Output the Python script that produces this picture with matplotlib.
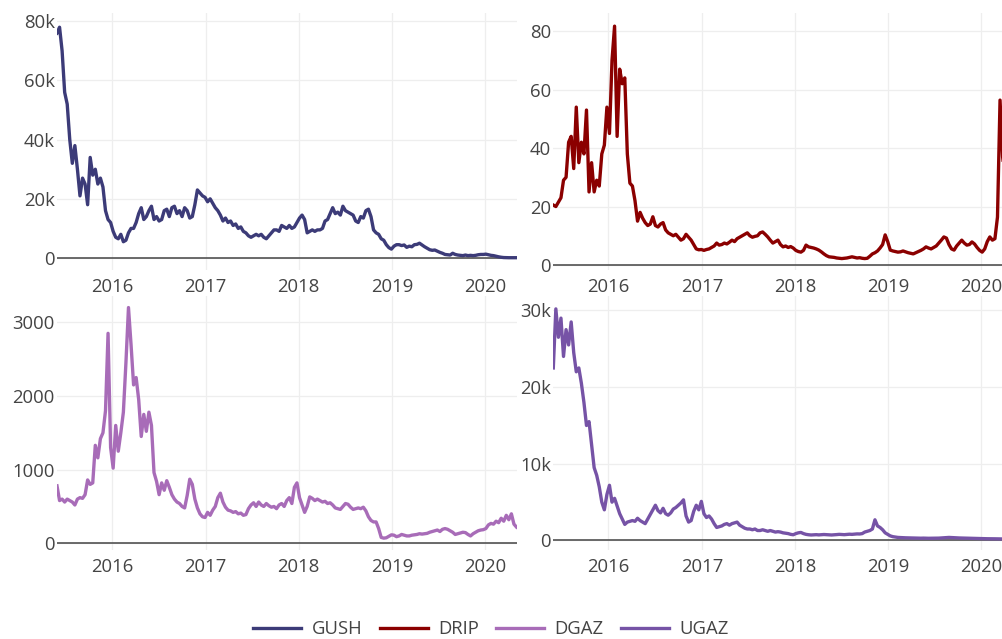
import numpy as np
import pandas as pd
import matplotlib
matplotlib.use('Agg')
import matplotlib.pyplot as plt
import matplotlib.dates as mdates
from matplotlib.ticker import FixedLocator, FuncFormatter

plt.rcParams['font.family'] = ['Open Sans', 'DejaVu Sans']

# one reading every 10 days, 2015-05-30 .. 2020-05-03
dates = pd.date_range('2015-05-30', periods=181, freq='10D')

# GUSH, thousands
gush_k = [
    76, 78, 70, 56, 52, 40, 32, 38, 30, 21,
    27, 25, 18, 34, 28, 30, 25, 27, 24, 16,
    13, 12, 9, 7, 6.5, 8, 5.5, 6, 8.5, 10,
    10, 12, 15, 17, 13, 14, 16, 17.5, 13, 14,
    12.5, 13, 16, 16.5, 14, 17, 17.5, 15, 16, 14,
    17, 16, 13.5, 14, 18, 23, 22, 21, 20.5, 19,
    20, 18.5, 17, 16, 14.5, 12.5, 13.5, 12, 12.5, 11,
    11.5, 10, 10.5, 9, 8.5, 7.5, 7, 7.5, 8, 7.5,
    8, 7, 6.5, 7.5, 8.5, 9.5, 9.5, 9, 11, 10.5,
    10, 11, 10, 10.5, 12, 13.5, 14.5, 13, 8.5, 9,
    9.5, 9, 9.5, 9.5, 10, 12.5, 13, 15, 17, 15,
    15.5, 14.5, 17.5, 16, 15.5, 15, 14.5, 12.5, 12, 14,
    13.5, 16, 16.5, 14, 9.5, 8.5, 8, 6.5, 6, 4.5,
    3.5, 3, 4, 4.5, 4.5, 4.2, 4.4, 3.6, 4, 3.8,
    4.5, 4.6, 5, 4.4, 3.8, 3.3, 2.8, 2.6, 2.7, 2.3,
    1.9, 1.6, 1.2, 1.1, 1.0, 1.6, 1.2, 1.0, 0.9, 0.8,
    1.0, 0.8, 0.9, 0.8, 0.9, 1.1, 1.2, 1.2, 1.3, 1.1,
    0.9, 0.8, 0.6, 0.4, 0.25, 0.15, 0.12, 0.1, 0.1, 0.12,
    0.1,
]

drip = [
    20.5, 20, 21.5, 23, 29, 30, 42, 44, 33, 54,
    35, 42, 38, 53, 25, 35, 25, 29, 27, 38,
    41, 54, 45, 70, 81.7, 44, 67, 62, 64, 38,
    28, 27, 22, 15, 18, 16, 14.5, 13.5, 14, 16.5,
    13.5, 13, 14, 14.5, 12, 11, 10.5, 10, 10.5, 9.5,
    8.5, 9, 10.5, 9.5, 8.5, 7, 5.5, 5.2, 5.3, 5,
    5.3, 5.5, 6, 6.5, 7.5, 6.8, 7, 7.5, 7.2, 7.8,
    8.5, 8, 9, 9.5, 10, 10.5, 11, 10, 9.5, 9.8,
    10, 11, 11.3, 10.5, 9.6, 8.5, 7.5, 8, 8.5, 7,
    6.2, 6.5, 6, 6.3, 5.8, 5, 4.6, 4.4, 5, 6.8,
    6.2, 6, 5.8, 5.5, 5.1, 4.5, 3.8, 3.2, 2.8, 2.7,
    2.6, 2.4, 2.3, 2.2, 2.3, 2.4, 2.6, 2.8, 2.6, 2.4,
    2.5, 2.3, 2.2, 2.3, 3.0, 3.8, 4.2, 4.8, 5.8, 7,
    10.3, 8, 5.1, 4.8, 4.6, 4.4, 4.5, 4.8, 4.5, 4.2,
    4.0, 3.8, 4.2, 4.6, 5, 5.5, 6.2, 5.8, 5.5, 6,
    6.5, 7.5, 8.5, 9.6, 9.2, 7, 5.5, 5.1, 6.5, 7.5,
    8.5, 7.5, 6.8, 7, 7.9, 7.2, 6, 5, 4.4, 5.5,
    8, 9.6, 8.5, 9, 16.4, 56.4, 37, 30, 26, 24,
    22,
]

dgaz = [
    780, 580, 600, 560, 600, 580, 560, 520, 600, 620,
    610, 660, 860, 800, 820, 1330, 1160, 1420, 1500, 1800,
    2850, 1300, 1020, 1600, 1250, 1500, 1780, 2450, 3200, 2700,
    2150, 2250, 1950, 1450, 1750, 1520, 1780, 1600, 960, 840,
    660, 820, 720, 850, 760, 660, 600, 560, 540, 500,
    480, 650, 870, 800, 600, 480, 400, 360, 350, 420,
    380, 450, 500, 620, 680, 560, 490, 450, 440, 420,
    430, 400, 410, 380, 390, 470, 520, 550, 500, 560,
    520, 500, 540, 510, 490, 500, 470, 520, 540, 500,
    580, 620, 540, 760, 820, 620, 520, 420, 500, 630,
    610, 580, 600, 580, 560, 570, 540, 550, 520, 480,
    470, 460, 500, 540, 530, 490, 460, 470, 480, 470,
    490, 440, 360, 310, 290, 290, 200, 80, 70, 75,
    95, 115, 110, 90, 100, 120, 110, 100, 100, 110,
    115, 120, 130, 125, 130, 135, 150, 160, 170, 180,
    160, 190, 200, 190, 170, 150, 120, 130, 140, 150,
    145, 120, 100, 130, 150, 170, 180, 185, 200, 250,
    270, 260, 300, 280, 340, 300, 380, 320, 400, 260,
    220,
]

# UGAZ, thousands
ugaz_k = [
    22.5, 30.2, 26.5, 29, 24, 27.5, 25.5, 28.5, 24.5, 22,
    22.5, 20.5, 18, 15, 15.5, 12.5, 9.5, 8.5, 7, 5,
    4, 6, 7.2, 5, 5.5, 4.5, 3.5, 2.8, 2.1, 2.4,
    2.5, 2.6, 2.5, 2.9, 2.6, 2.4, 2.2, 2.8, 3.4, 4.0,
    4.6, 3.9, 3.6, 4.2, 3.5, 3.3, 3.6, 4.1, 4.3, 4.6,
    4.9, 5.3, 3.2, 2.4, 2.6, 3.8, 4.6, 4.0, 5.1, 3.5,
    3.0, 3.2, 2.8, 2.2, 1.7, 1.8, 1.9, 2.1, 2.2, 2.0,
    2.2, 2.3, 2.4, 2.0, 1.8, 1.6, 1.5, 1.5, 1.4, 1.5,
    1.3, 1.3, 1.4, 1.3, 1.2, 1.3, 1.2, 1.1, 1.15, 1.1,
    1.0, 0.95, 0.9, 0.8, 0.75, 0.9, 1.0, 1.05, 0.9, 0.8,
    0.75, 0.72, 0.74, 0.76, 0.73, 0.75, 0.78, 0.76, 0.74, 0.72,
    0.74, 0.77, 0.8, 0.78, 0.76, 0.79, 0.82, 0.8, 0.83, 0.86,
    0.85, 0.9, 1.1, 1.2, 1.3, 1.5, 2.7, 1.9, 1.7, 1.4,
    1.0, 0.8, 0.6, 0.5, 0.45, 0.4, 0.38, 0.36, 0.35, 0.34,
    0.33, 0.32, 0.31, 0.3, 0.3, 0.31, 0.3, 0.29, 0.3, 0.3,
    0.3, 0.31, 0.33, 0.35, 0.37, 0.4, 0.38, 0.36, 0.35, 0.33,
    0.32, 0.3, 0.29, 0.28, 0.27, 0.26, 0.25, 0.25, 0.24, 0.24,
    0.23, 0.23, 0.22, 0.22, 0.21, 0.21, 0.2, 0.2, 0.2, 0.2,
    0.2,
]

names = ['GUSH', 'DRIP', 'DGAZ', 'UGAZ']
colors = ['#3c3b78', '#8b0000', '#a86cb8', '#7653a6']
series = [np.array(gush_k) * 1000, np.array(drip), np.array(dgaz), np.array(ugaz_k) * 1000]
yticks = [[0, 20000, 40000, 60000, 80000], [0, 20, 40, 60, 80],
          [0, 1000, 2000, 3000], [0, 10000, 20000, 30000]]
ylims = [(-4056, 82810), (-1.71, 86.2), (-91, 3357), (-1239, 31883)]

W, H = 1002, 639
fig = plt.figure(figsize=(W / 100, H / 100), dpi=100)

# panel boxes in pixels: left, top, width, height
boxes = [(57, 13, 459.5, 257), (553.3, 13, 459.5, 257),
         (57, 296, 459.5, 254), (553.3, 296, 459.5, 254)]


def kfmt(v, pos):
    if v == 0:
        return '0'
    return f'{int(round(v / 1000))}k'


lines = []
for k in range(4):
    l, t, w, h = boxes[k]
    ax = fig.add_axes([l / W, 1 - (t + h) / H, w / W, h / H])
    ln, = ax.plot(dates, series[k], color=colors[k], lw=2.4, label=names[k],
                  solid_joinstyle='round', zorder=3)
    lines.append(ln)
    ax.set_xlim(dates[0], dates[-1])
    ax.set_ylim(*ylims[k])
    ax.yaxis.set_major_locator(FixedLocator(yticks[k]))
    if yticks[k][-1] >= 10000:
        ax.yaxis.set_major_formatter(FuncFormatter(kfmt))
    ax.xaxis.set_major_locator(mdates.YearLocator())
    ax.xaxis.set_major_formatter(mdates.DateFormatter('%Y'))
    ax.grid(True, color='#eeeeee', lw=0.9, zorder=0)
    ax.axhline(0, color='#444444', lw=1.1, zorder=2)
    for s in ax.spines.values():
        s.set_visible(False)
    ax.tick_params(axis='both', length=0, labelsize=13.3, colors='#444444')
    ax.tick_params(axis='x', pad=6)
    ax.tick_params(axis='y', pad=1.5)

fig.legend(lines, names, loc='center', bbox_to_anchor=(491 / W, 1 - 629 / H),
           ncol=4, frameon=False, fontsize=13.3, handlelength=2.6,
           handletextpad=0.55, columnspacing=0.95, labelcolor='#444444')

fig.savefig('out.png', dpi=100)
